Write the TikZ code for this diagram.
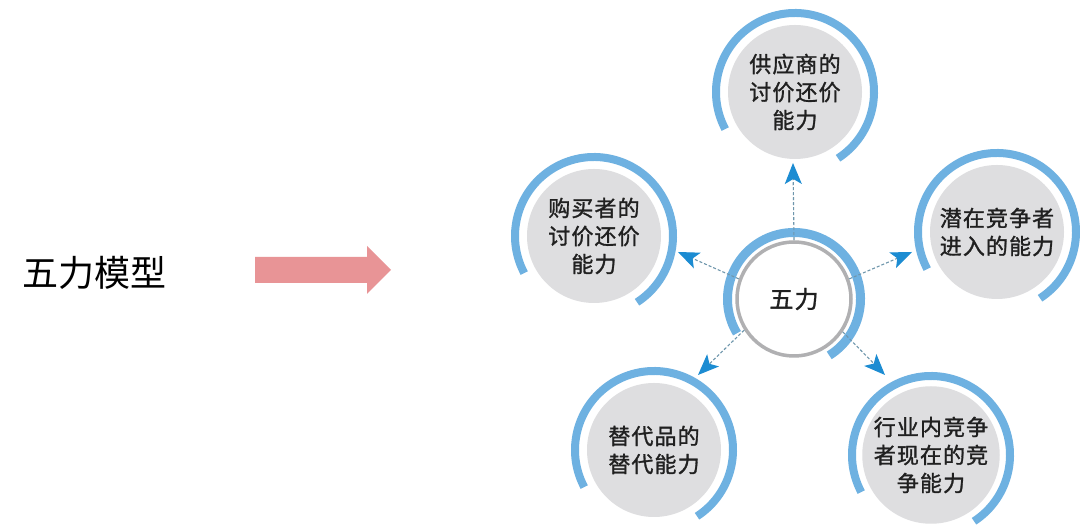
\documentclass[tikz,border=0pt]{standalone}
\usepackage{fontspec}
\usetikzlibrary{arrows.meta,calc}
\newfontfamily\cjk[LetterSpace=5, FakeBold=1.3]{Noto Sans CJK SC}
\newfontfamily\cjktitle{Noto Sans CJK SC}
\definecolor{arcblue}{RGB}{110,177,225}
\definecolor{tipblue}{RGB}{28,140,210}
\definecolor{dashcol}{RGB}{110,150,172}
\definecolor{nodegray}{RGB}{222,222,224}
\definecolor{ringgray}{RGB}{176,176,178}
\definecolor{pinkarrow}{RGB}{232,148,150}
\definecolor{txt}{RGB}{32,32,32}
\tikzset{
  outer/.style={circle, fill=nodegray, minimum size=134pt, inner sep=0pt, align=center,
    font=\cjk\fontsize{22}{28}\selectfont, text=txt},
  centre/.style={circle, fill=white, draw=ringgray, line width=3.5pt, minimum size=114pt,
    inner sep=0pt, font=\cjk\fontsize{24}{28}\selectfont, text=txt},
  bluearc/.style={draw=arcblue, line width=8pt},
  conn/.style={draw=dashcol, line width=1.1pt, dash pattern=on 3pt off 2pt,
    -{Stealth[length=21pt, width=17pt, inset=5pt, fill=tipblue, color=tipblue]}},
}
\begin{document}
\begin{tikzpicture}[x=1pt, y=1pt]
\useasboundingbox (0,0) rectangle (1080,529);
\fill[white] (0,0) rectangle (1080,529);

% title and pink arrow
\node[anchor=west, inner sep=0pt, font=\cjktitle\fontsize{36}{36}\selectfont, text=black] (title) at (22,256) {五力模型};
\fill[pinkarrow] (255,272) -- (367,272) -- (367,283) -- (391,259) -- (367,235) -- (367,246) -- (255,246) -- cycle;

% centre
\node[centre] (c) at (794,230) {五力};
\draw[draw=arcblue, line width=9pt] ($(c)+(-58:66.5)$) arc[start angle=-58, end angle=211, radius=66.5];

% outer nodes
\node[outer] (t) at (795,437) {供应商的\\讨价还价\\能力};
\node[outer] (l) at (594,293) {购买者的\\讨价还价\\能力};
\node[outer] (r) at (997,297) {潜在竞争者\\进入的能力};
\node[outer] (bl) at (654,79) {替代品的\\替代能力};
\node[outer] (br) at (931,74) {行业内竞争\\者现在的竞\\争能力};

\foreach \n in {t,l,r,bl,br}{
  \draw[bluearc] ($(\n)+(-57:79)$) arc[start angle=-57, end angle=208, radius=79];
}

% arrow tips
\coordinate (tt) at (793,366);
\coordinate (tl) at (678,277);
\coordinate (tr) at (912,277);
\coordinate (tbl) at (698,154);
\coordinate (tbr) at (885,154);

\draw[conn] (c.90) -- (tt);
\draw[conn] (c.160) -- (tl);
\draw[conn] (c.20) -- (tr);
\draw[conn] (c.212) -- (tbl);
\draw[conn] (c.326) -- (tbr);
\end{tikzpicture}
\end{document}
